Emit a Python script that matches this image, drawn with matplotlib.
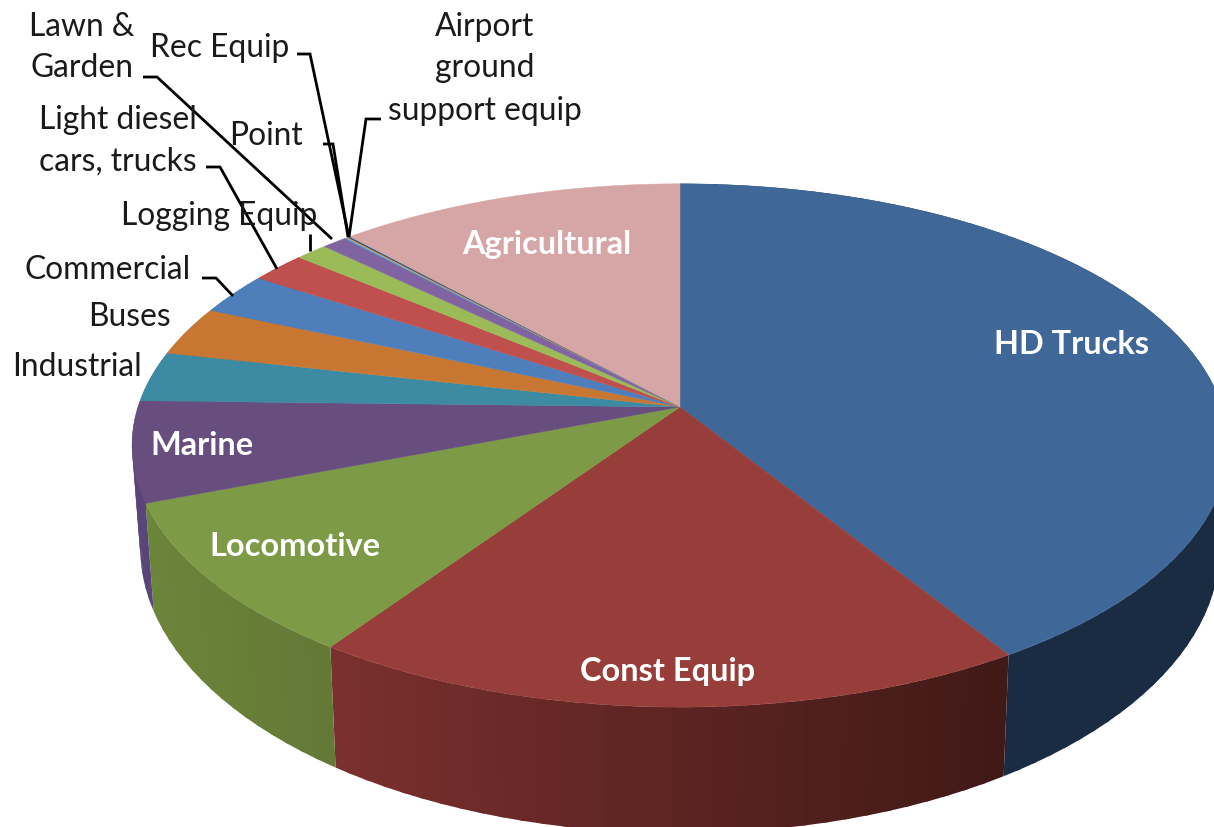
import numpy as np
import matplotlib
matplotlib.use("Agg")
import matplotlib.pyplot as plt
from matplotlib.colors import to_rgb

categories = ["HD Trucks", "Const Equip", "Locomotive", "Marine", "Industrial", "Buses",
              "Commercial", "Light diesel cars, trucks", "Logging Equip", "Lawn & Garden",
              "Rec Equip", "Point", "Airport ground support equip", "Agricultural"]
values = [41.1, 18.5, 9.6, 6.2, 3.1, 3.05, 2.6, 1.9, 1.1, 0.86, 0.07, 0.05, 0.08, 11.8]
colors = ["#3f6797", "#973e3b", "#7d9a47", "#674e7f", "#3c8ba2", "#c87733", "#4f7fbb",
          "#bf504d", "#9bbb58", "#8064a2", "#4bacc6", "#f79646", "#2c4d75", "#d6a6a6"]
side_left = ["#1a2c42", "#7a302e", "#6b8539", "#5a4578", "#2f6d80", "#9c5d28", "#3e6392",
             "#953e3c", "#799245", "#644e7e", "#3a8699", "#c07535", "#223c5b", "#a78181"]
side_right = ["#1a2c42", "#401916", "#647836", "#5a4578", "#2f6d80", "#9c5d28", "#3e6392",
              "#953e3c", "#799245", "#644e7e", "#3a8699", "#c07535", "#223c5b", "#a78181"]

plt.rcParams["font.family"] = ["Lato", "DejaVu Sans"]
W, H = 1214, 828
fig = plt.figure(figsize=(W / 100, H / 100), dpi=100)
ax = fig.add_axes([0, 0, 1, 1])
ax.set_xlim(0, W)
ax.set_ylim(H, 0)
ax.axis("off")

CX, CY, A, B, K = 680.0, 408.0, 542.0, 256.0, 0.147
SHRINK, D0, D1 = 0.985, 99.0, 0.09


def top(theta):
    u, v = np.sin(theta), np.cos(theta)
    w = 1 + K * v
    return CX + A * u / w, CY - B * v / w


def bottom(theta):
    x, y = top(theta)
    return CX + SHRINK * (x - CX), y + D0 + D1 * (y - CY)


edges = np.concatenate([[0], np.cumsum(values)]) / np.sum(values) * 2 * np.pi

# sides: bands of one wedge overlap the next so no seams show
x_ends = [(top(edges[i])[0], top(edges[i + 1])[0]) for i in range(len(values))]
for i in range(len(values)):
    a0, a1 = edges[i], edges[i + 1]
    if np.cos((a0 + a1) / 2) > 0.6:
        continue
    nb = max(1, int((a1 - a0) / 0.035))
    cuts = np.linspace(a0, a1, nb + 1)
    lo, hi = min(x_ends[i]), max(x_ends[i])
    order = range(nb) if top(a0)[0] < top(a1)[0] else range(nb - 1, -1, -1)
    for k in order:
        t = np.linspace(cuts[k], cuts[k + 1] if k == nb - 1 else cuts[k + 1] + 0.01, 8)
        xt, yt = top(t)
        xb, yb = bottom(t)
        f = np.clip((xt.mean() - lo) / max(hi - lo, 1), 0, 1)
        c = (1 - f) * np.array(to_rgb(side_left[i])) + f * np.array(to_rgb(side_right[i]))
        ax.fill(np.r_[xt, xb[::-1]], np.r_[yt, yb[::-1]], color=c, lw=0, zorder=2 + i * 0.01)

# top faces
for i in range(len(values)):
    n = max(2, int((edges[i + 1] - edges[i]) / 0.005))
    t = np.linspace(edges[i], edges[i + 1], n + 1)
    x, y = top(t)
    ax.fill(np.r_[CX, x], np.r_[CY, y], color=colors[i], lw=0.3, ec=colors[i], zorder=3)

FS = 22.9
plain = [("Lawn &", 134, 27, "right"), ("Garden", 134, 68, "right"),
         ("Rec Equip", 220, 48, "center"),
         ("Airport", 485, 27, "center"), ("ground", 485, 68, "center"),
         ("support equip", 485, 111, "center"),
         ("Light diesel", 118, 120, "center"), ("cars, trucks", 118, 162, "center"),
         ("Point", 266, 136, "center"), ("Logging Equip", 219, 216, "center"),
         ("Commercial", 108, 270, "center"), ("Buses", 129, 317, "center"),
         ("Industrial", 77, 367, "center")]
for s, x, y, ha in plain:
    ax.text(x, y, s, ha=ha, va="center", fontsize=FS, color="#1a1a1a", zorder=6)

bold = [("Agricultural", 547, 245), ("HD Trucks", 1071, 345), ("Const Equip", 668, 672),
        ("Locomotive", 295, 547), ("Marine", 202, 446)]
for s, x, y in bold:
    ax.text(x, y, s, ha="center", va="center", fontsize=23.4, fontweight="bold",
            color="white", zorder=6)

leaders = [[(143, 78), (157, 78), (332, 240)],
           [(297, 55), (310, 55), (349, 238)],
           [(323, 145), (333, 145), (348, 238)],
           [(381, 120), (366, 120), (349, 238)],
           [(206, 168), (220, 168), (277, 270)],
           [(310, 235), (310, 252)],
           [(202, 279), (216, 279), (233, 297)]]
for pts in leaders:
    xs, ys = zip(*pts)
    ax.plot(xs, ys, color="black", lw=2.0, solid_joinstyle="miter", solid_capstyle="butt", zorder=5)

fig.savefig("out.png", dpi=100, facecolor="white")
